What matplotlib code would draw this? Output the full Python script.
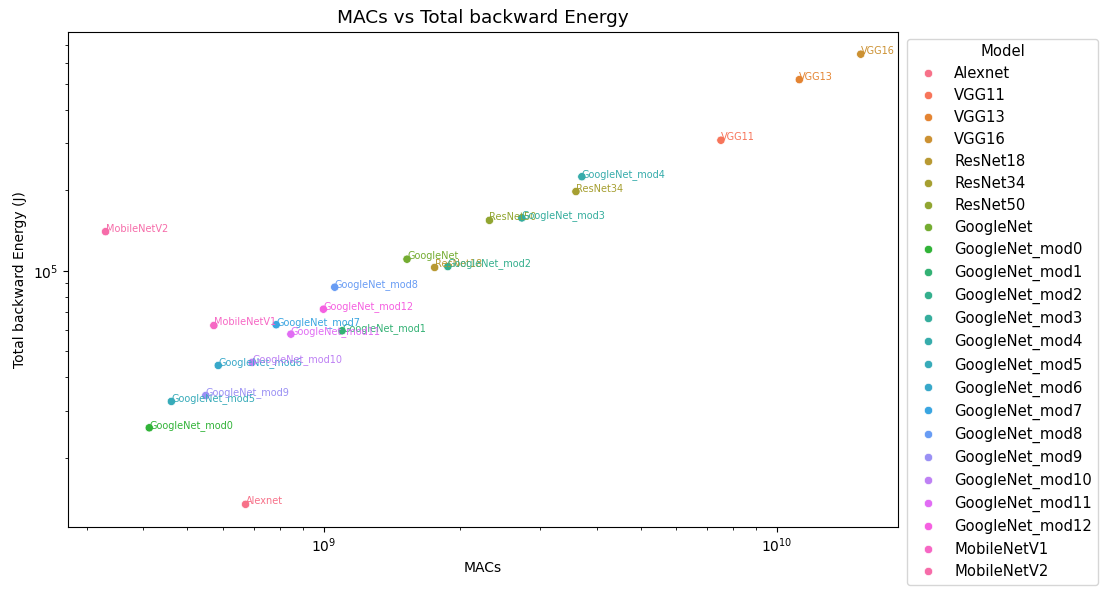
import pandas as pd
import numpy as np
import matplotlib
matplotlib.use("Agg")
import matplotlib.pyplot as plt
import seaborn as sns

models = ["Alexnet", "VGG11", "VGG13", "VGG16", "ResNet18", "ResNet34", "ResNet50",
          "GoogleNet", "GoogleNet_mod0", "GoogleNet_mod1", "GoogleNet_mod2", "GoogleNet_mod3",
          "GoogleNet_mod4", "GoogleNet_mod5", "GoogleNet_mod6", "GoogleNet_mod7", "GoogleNet_mod8",
          "GoogleNet_mod9", "GoogleNet_mod10", "GoogleNet_mod11", "GoogleNet_mod12",
          "MobileNetV1", "MobileNetV2"]
macs = [6.72e8, 7.52e9, 1.12e10, 1.53e10, 1.756e9, 3.60e9, 2.32e9,
        1.526e9, 4.12e8, 1.097e9, 1.878e9, 2.735e9,
        3.71e9, 4.61e8, 5.85e8, 7.85e8, 1.057e9,
        5.49e8, 6.95e8, 8.46e8, 9.98e8,
        5.72e8, 3.30e8]
energy = [1.34e4, 3.08e5, 5.19e5, 6.46e5, 1.03e5, 1.98e5, 1.545e5,
          1.106e5, 2.59e4, 5.97e4, 1.038e5, 1.578e5,
          2.25e5, 3.25e4, 4.43e4, 6.29e4, 8.69e4,
          3.42e4, 4.55e4, 5.80e4, 7.19e4,
          6.25e4, 1.402e5]

df = pd.DataFrame({"Model": models, "MACs": macs, "Energy": energy})

fig = plt.figure(figsize=(11.12, 5.98), dpi=100)
ax = fig.add_axes([0.061, 0.119, 0.747, 0.828])

palette = sns.husl_palette(len(models))
sns.scatterplot(data=df, x="MACs", y="Energy", hue="Model", palette=palette, ax=ax)

# 每個點旁邊標上模型名稱
for i, row in df.iterrows():
    ax.text(row["MACs"], row["Energy"], row["Model"], fontsize=7, color=palette[i])

ax.set_xscale("log")
ax.set_yscale("log")
ax.set_xlabel("MACs")
ax.set_ylabel("Total backward Energy (J)")
ax.set_title("MACs vs Total backward Energy", fontsize=13.3)
ax.legend(title="Model", bbox_to_anchor=(1.005, 0.995), loc="upper left",
          borderaxespad=0.3, fontsize=10.6, title_fontsize=10.6, labelspacing=0.47)

fig.savefig("out.png", dpi=100)
